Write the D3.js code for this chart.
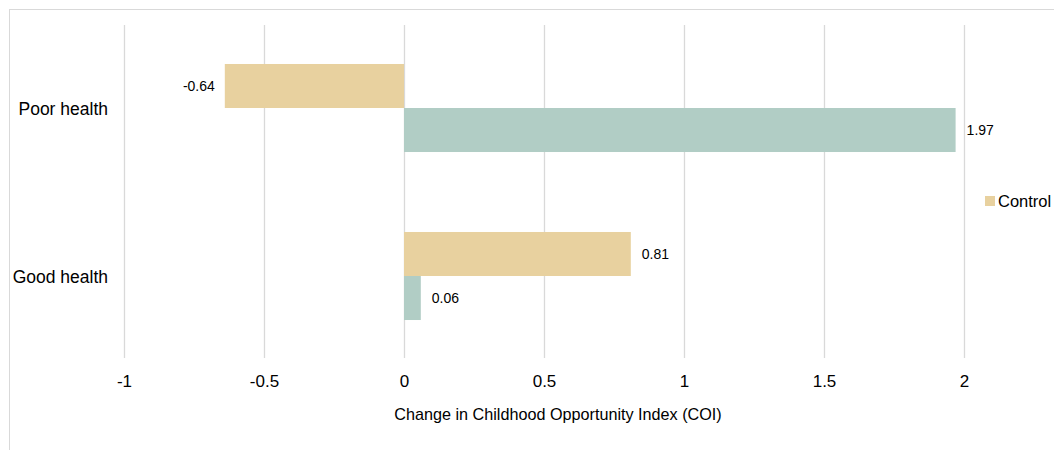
<!DOCTYPE html>
<html>
<head>
<meta charset="utf-8">
<script src="https://cdn.jsdelivr.net/npm/d3@7"></script>
<style>
  html, body { margin: 0; padding: 0; background: #fff; }
  svg { display: block; font-family: "Liberation Sans", Arial, sans-serif; }
</style>
</head>
<body>
<svg id="chart" width="1054" height="450"></svg>
<script>
// Outcome groups (top to bottom) and the two comparison series
const categories = ["Poor health", "Good health"];
const seriesNames = ["Control", "Intervention"];
const controlValues = [-0.64, 0.81];
const interventionValues = [1.97, 0.06];
const xTicks = [-1, -0.5, 0, 0.5, 1, 1.5, 2];
const legendItems = ["Control"];

const seriesColors = ["#e8d19f", "#b1cdc5"];
const seriesValues = [controlValues, interventionValues];

const svg = d3.select("#chart");
const W = 1054, H = 450;

// Chart frame
svg.append("rect")
  .attr("x", 9.5).attr("y", 9.5)
  .attr("width", W + 20).attr("height", H + 20)
  .attr("fill", "#fff").attr("stroke", "#d9d9d9").attr("stroke-width", 1);

const plotTop = 25, plotBottom = 358;

const x = d3.scaleLinear().domain([-1, 2]).range([124, 964]);

const y = d3.scaleBand()
  .domain(categories)
  .range([24, 360])
  .paddingInner(0.476)
  .paddingOuter(0.238);

const ySub = d3.scaleBand()
  .domain(seriesNames)
  .range([0, y.bandwidth()]);

// Vertical gridlines
svg.append("g")
  .selectAll("line")
  .data(xTicks)
  .join("line")
  .attr("x1", d => Math.round(x(d)) + 0.5)
  .attr("x2", d => Math.round(x(d)) + 0.5)
  .attr("y1", plotTop).attr("y2", plotBottom)
  .attr("stroke", "#d9d9d9").attr("stroke-width", 1.3);

// X axis tick labels
const xAxis = d3.axisBottom(x).tickValues(xTicks).tickSize(0).tickPadding(0)
  .tickFormat(d => String(d));
const gx = svg.append("g")
  .attr("transform", `translate(0, ${plotBottom + 17})`)
  .call(xAxis);
gx.select(".domain").remove();
gx.selectAll("text")
  .attr("font-size", 17).attr("fill", "#000")
  .attr("font-family", "Liberation Sans, Arial, sans-serif");

// Category labels
const yAxis = d3.axisLeft(y).tickSize(0).tickPadding(0);
const gy = svg.append("g")
  .attr("transform", "translate(108, 1)")
  .call(yAxis);
gy.select(".domain").remove();
gy.selectAll("text")
  .attr("font-size", 17.5).attr("fill", "#000")
  .attr("font-family", "Liberation Sans, Arial, sans-serif");

// Bars
const rows = [];
categories.forEach((c, i) => {
  seriesNames.forEach((s, j) => {
    rows.push({ category: c, series: s, value: seriesValues[j][i], color: seriesColors[j] });
  });
});

const barG = svg.append("g");
barG.selectAll("rect")
  .data(rows)
  .join("rect")
  .attr("x", d => x(Math.min(0, d.value)))
  .attr("width", d => Math.abs(x(d.value) - x(0)))
  .attr("y", d => y(d.category) + ySub(d.series))
  .attr("height", ySub.bandwidth())
  .attr("fill", d => d.color);

// Value labels
barG.selectAll("text")
  .data(rows)
  .join("text")
  .attr("x", d => d.value < 0 ? x(d.value) - 10 : x(d.value) + 11)
  .attr("y", d => y(d.category) + ySub(d.series) + ySub.bandwidth() / 2)
  .attr("dy", "0.35em")
  .attr("text-anchor", d => d.value < 0 ? "end" : "start")
  .attr("font-size", 14).attr("fill", "#000")
  .text(d => d3.format(".2f")(d.value).replace("\u2212", "-"));

// Axis title
svg.append("text")
  .attr("x", 558).attr("y", 414)
  .attr("dy", "0.35em")
  .attr("text-anchor", "middle")
  .attr("font-size", 16.2).attr("fill", "#000")
  .text("Change in Childhood Opportunity Index (COI)");

// Legend
const legend = svg.append("g").attr("transform", "translate(985, 201)");
legendItems.forEach((name, i) => {
  const g = legend.append("g").attr("transform", `translate(${i * 120}, 0)`);
  g.append("rect").attr("x", 0).attr("y", -5).attr("width", 10).attr("height", 10)
    .attr("fill", seriesColors[seriesNames.indexOf(name)]);
  g.append("text").attr("x", 13).attr("y", 0).attr("dy", "0.35em")
    .attr("font-size", 16.5).attr("fill", "#000").text(name);
});
</script>
</body>
</html>
